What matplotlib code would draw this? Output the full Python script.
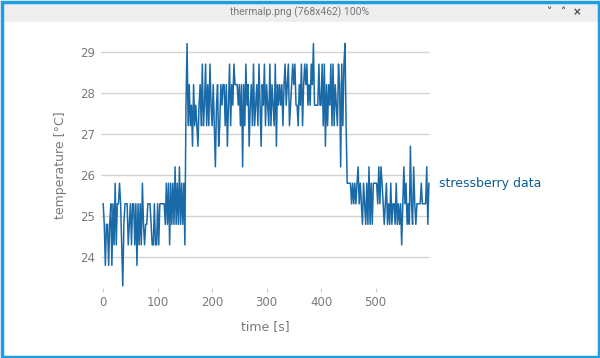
import matplotlib
matplotlib.use("Agg")
import matplotlib.pyplot as plt
import matplotlib.patches as mpatches
import matplotlib.transforms as mtransforms
import numpy as np

SAMPLE_STEP = 2
temps_idle = [
    25.3, 24.8, 23.8, 24.8, 24.8, 23.8, 24.8, 25.3, 23.8, 25.3,
    24.3, 25.8, 24.3, 25.3, 25.3, 25.8, 25.3, 24.3, 23.3, 24.8,
    25.3, 25.3, 25.3, 24.3, 24.8, 25.3, 24.3, 25.3, 25.3, 24.3,
    25.3, 23.8, 25.3, 24.3, 25.3, 24.3, 25.8, 24.8, 24.3, 24.8,
    24.8, 25.3, 25.3, 25.3, 24.8, 24.3, 24.3, 25.3, 24.3, 24.3,
    25.3, 24.3, 25.3, 25.3, 25.3, 25.3, 25.3, 24.8, 25.8, 24.8,
    25.8, 24.3, 25.8, 24.8, 25.8, 24.8, 26.2, 24.8, 25.8, 24.8,
    26.2, 24.8, 25.8, 24.8, 25.8, 24.3,
]
temps_stress = [
    27.7,
    29.2, 27.2, 28.2, 27.2, 27.7, 26.7, 28.2, 27.2, 27.7, 27.2,
    26.7, 27.7, 28.2, 27.2, 28.7, 27.2, 27.7, 28.7, 27.2, 28.2,
    27.2, 28.7, 27.7, 27.2, 28.2, 27.2, 26.2, 27.7, 28.2, 26.7,
    27.2, 28.2, 27.7, 28.2, 28.2, 27.2, 28.2, 26.7, 27.7, 28.7,
    27.2, 28.2, 27.7, 28.7, 28.2, 28.2, 28.2, 27.7, 28.2, 27.2,
    28.2, 26.2, 28.2, 27.2, 28.7, 27.7, 28.2, 26.7, 27.7, 28.2,
    27.2, 28.7, 27.2, 27.7, 28.2, 27.2, 28.7, 27.7, 26.7, 28.2,
    27.7, 28.7, 27.2, 28.2, 27.7, 27.2, 28.7, 27.2, 28.2, 27.7,
    27.2, 28.7, 26.7, 28.2, 27.7, 28.2, 27.7, 28.2, 27.2, 28.2,
    28.7, 27.7, 28.2, 28.7, 27.2, 27.7, 28.2, 28.7, 28.2, 28.7,
    27.7, 27.7, 27.2, 28.2, 27.7, 28.7, 27.2, 28.2, 28.7, 28.2,
    28.7, 27.7, 28.2, 27.7, 28.7, 28.2, 29.2, 27.7, 27.7, 27.7,
    27.7, 28.7, 27.7, 27.7, 28.7, 27.2, 28.7, 26.7, 28.2, 27.2,
    28.2, 27.7, 28.7, 27.2, 28.7, 27.2, 28.2, 27.7, 27.2, 28.7,
    28.2, 26.2, 28.7, 27.2, 28.7, 29.2, 27.2,
]
temps_cooldown = [
    25.8, 25.8, 25.8, 25.8, 25.3, 25.8, 25.3, 25.8, 25.3, 25.8,
    26.2, 25.3, 25.8, 25.3, 24.8, 25.8, 25.3, 24.8, 25.8, 24.8,
    26.2, 24.8, 25.8, 24.8, 25.8, 25.8, 25.8, 25.8, 25.3, 26.2,
    25.3, 26.2, 25.8, 25.3, 24.8, 25.3, 25.8, 24.8, 25.3, 24.8,
    25.8, 24.8, 25.3, 25.3, 24.8, 25.8, 24.8, 25.3, 24.8, 25.3,
    24.3, 25.3, 26.2, 25.3, 25.8, 24.8, 25.3, 24.8, 26.7, 25.3,
    24.8, 26.2, 25.3, 24.8, 25.3, 25.3, 25.3, 25.3, 25.8, 25.3,
    25.3, 25.3, 25.3, 26.2, 24.8, 25.8,
]
temps = temps_idle + temps_stress + temps_cooldown
times = np.arange(len(temps)) * SAMPLE_STEP

y_ticks = [24, 25, 26, 27, 28, 29]
x_ticks = [0, 100, 200, 300, 400, 500]
series_label = "stressberry data"
window_title = "thermalp.png (768x462) 100%"

C_LINE = "#1a6aa8"
C_LABEL = "#0b5c99"
C_TICK = "#7a7a7a"
C_GRID = "#d4d4d4"
C_FRAME = "#1e9de3"
C_BAR = "#eeeeee"

W, H = 600, 358
fig = plt.figure(figsize=(W / 100, H / 100), dpi=100)
fig.patch.set_facecolor("white")


def fx(px):
    return px / W


def fy(py):
    return 1 - py / H


# window chrome
fig.add_artist(mpatches.Rectangle((fx(2), fy(22)), fx(596), 20 / H,
                                  transform=fig.transFigure, color=C_BAR, lw=0))
fig.add_artist(mpatches.Rectangle((fx(1.5), fy(356.5)), fx(597), 355 / H,
                                  transform=fig.transFigure, fill=False,
                                  edgecolor=C_FRAME, lw=2.5))
fig.text(0.5, fy(12), window_title, ha="center", va="center",
         fontsize=7.5, color="#777777", family="Roboto")
for px, sym in [(549, "˅"), (563, "˄"), (577, "×")]:
    fig.text(fx(px), fy(12), sym, ha="center", va="center",
             fontsize=7.5, color="#444444", fontweight="bold")

# plot area
ax = fig.add_axes([fx(101), fy(288), fx(430 - 101), (288 - 41.5) / H])
ax.plot(times, temps, color=C_LINE, lw=1.1, zorder=3)

ax.set_xlim(-4, 600)
ax.set_ylim(23.25, 29.25)
ax.set_xticks(x_ticks)
ax.set_yticks(y_ticks)
ax.yaxis.grid(True, color=C_GRID, lw=1.0, zorder=0)
ax.set_axisbelow(True)
for spine in ax.spines.values():
    spine.set_visible(False)

ax.tick_params(axis="y", length=0, pad=4, labelsize=8.5, labelcolor=C_TICK)
ax.tick_params(axis="x", length=3, width=0.8, color="#cccccc", pad=3,
               labelsize=8.5, labelcolor=C_TICK)

ax.set_xlabel("time [s]", fontsize=9, color=C_TICK, labelpad=8)
ax.set_ylabel("temperature [°C]", fontsize=9, color=C_TICK, labelpad=10)

trans = mtransforms.blended_transform_factory(ax.transAxes, ax.transData)
ax.text(1.027, temps_cooldown[0], series_label, transform=trans,
        ha="left", va="center", fontsize=9, color=C_LABEL)

fig.savefig("out.png", dpi=100, facecolor=fig.get_facecolor())
